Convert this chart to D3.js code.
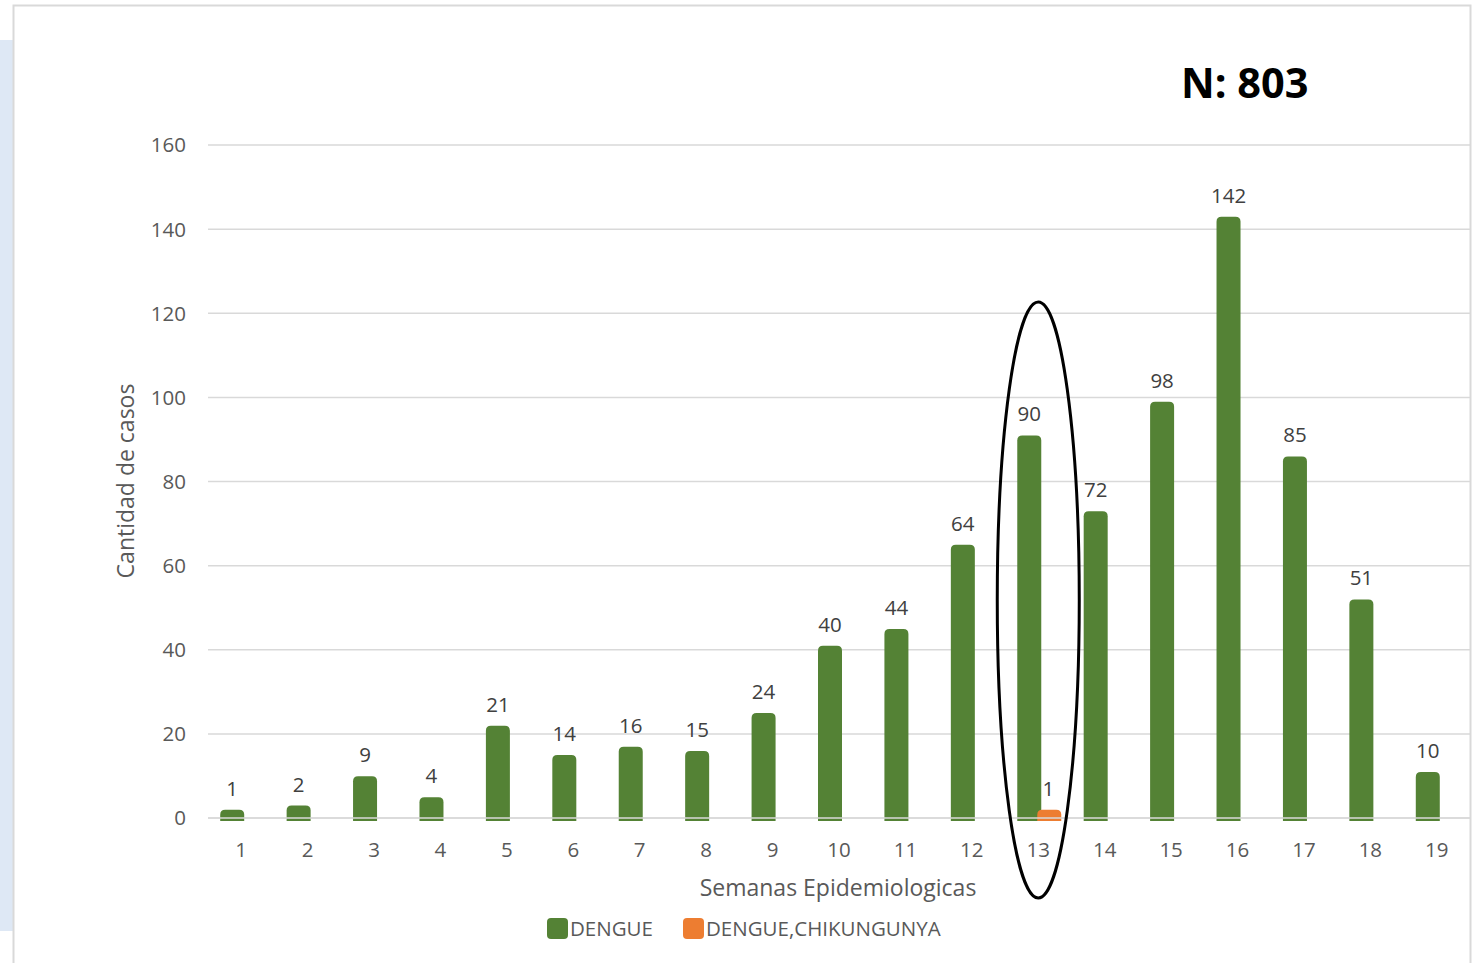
<!DOCTYPE html>
<html>
<head>
<meta charset="utf-8">
<script src="https://cdn.jsdelivr.net/npm/d3@7"></script>
<style>
  body { margin: 0; background: #fff; }
  svg { display: block; font-family: "Open Sans", "Liberation Sans", sans-serif; }
</style>
</head>
<body>
<div id="chart"></div>
<script>
// semanas epidemiologicas y casos
const weeks = ["1","2","3","4","5","6","7","8","9","10","11","12","13","14","15","16","17","18","19"];
const dengue = [1, 2, 9, 4, 21, 14, 16, 15, 24, 40, 44, 64, 90, 72, 98, 142, 85, 51, 10];
const dengueChik = [0, 0, 0, 0, 0, 0, 0, 0, 0, 0, 0, 0, 1, 0, 0, 0, 0, 0, 0];
const seriesNames = ["DENGUE", "DENGUE,CHIKUNGUNYA"];
const seriesColors = ["#548235", "#ed7d31"];
const yTicks = [0, 20, 40, 60, 80, 100, 120, 140, 160];
const totalLabel = "N: 803";
const highlightWeek = "13";

const W = 1473, H = 963;
const margin = {top: 145, right: 3, bottom: 145, left: 208};
const width = W - margin.left - margin.right;
const height = H - margin.top - margin.bottom;

const svg = d3.select("#chart").append("svg")
    .attr("width", W)
    .attr("height", H);

// 背景框
svg.append("rect")
    .attr("x", 0).attr("y", 40).attr("width", 13).attr("height", 891)
    .attr("fill", "#dee8f5");
svg.append("rect")
    .attr("x", 13.5).attr("y", 5.5).attr("width", 1457).attr("height", 970)
    .attr("fill", "#fff").attr("stroke", "#d9d9d9").attr("stroke-width", 2);

const g = svg.append("g").attr("transform", `translate(${margin.left},${margin.top})`);

const x = d3.scaleBand().domain(weeks).range([0, width]).padding(0);
const y = d3.scaleLinear().domain([0, 160]).range([height, 0]);

// grid
g.selectAll(".grid").data(yTicks).enter().append("line")
    .attr("x1", 0).attr("x2", width)
    .attr("y1", d => y(d)).attr("y2", d => y(d))
    .attr("stroke", "#d9d9d9").attr("stroke-width", 1.5);

// y ticks
g.selectAll(".ytick").data(yTicks).enter().append("text")
    .attr("x", -22).attr("y", d => y(d))
    .attr("dy", "0.36em")
    .attr("text-anchor", "end")
    .attr("font-size", 20.5).attr("fill", "#595959")
    .text(d => d);

// x ticks
g.selectAll(".xtick").data(weeks).enter().append("text")
    .attr("x", d => x(d) + x.bandwidth() / 2)
    .attr("y", height + 39)
    .attr("text-anchor", "middle")
    .attr("font-size", 20.5).attr("fill", "#595959")
    .text(d => d);

// rounded-top bar path
function barPath(x0, w, yTop, yBot, r) {
    r = Math.min(r, (yBot - yTop), w / 2);
    return `M${x0},${yBot}V${yTop + r}Q${x0},${yTop} ${x0 + r},${yTop}H${x0 + w - r}Q${x0 + w},${yTop} ${x0 + w},${yTop + r}V${yBot}Z`;
}

const barW = 24;
const offsets = [-21, -1];
const seriesData = [dengue, dengueChik];

seriesData.forEach((vals, si) => {
    const data = weeks.map((w, i) => ({week: w, value: vals[i]})).filter(d => d.value > 0);
    g.selectAll(`.bar${si}`).data(data).enter().append("path")
        .attr("d", d => {
            const cx = x(d.week) + x.bandwidth() / 2 + offsets[si];
            return barPath(cx, barW, y(d.value) - 4, height + 3, 5);
        })
        .attr("fill", seriesColors[si]);
    g.selectAll(`.lab${si}`).data(data).enter().append("text")
        .attr("x", d => x(d.week) + x.bandwidth() / 2 + offsets[si] + barW / 2 + (si === 1 ? -1 : 0))
        .attr("y", d => y(d.value) - 18)
        .attr("text-anchor", "middle")
        .attr("font-size", 20.5).attr("fill", "#404040")
        .text(d => d.value);
});

// baseline over bars
g.append("line")
    .attr("x1", 0).attr("x2", width)
    .attr("y1", y(0)).attr("y2", y(0))
    .attr("stroke", "#d9d9d9").attr("stroke-width", 1.5);

// axis titles
svg.append("text")
    .attr("transform", `translate(134,481) rotate(-90)`)
    .attr("text-anchor", "middle")
    .attr("font-size", 23).attr("fill", "#595959")
    .text("Cantidad de casos");
svg.append("text")
    .attr("x", 838).attr("y", 896)
    .attr("text-anchor", "middle")
    .attr("font-size", 23).attr("fill", "#595959")
    .text("Semanas Epidemiologicas");

// legend
const legendX = [547, 683];
seriesNames.forEach((name, i) => {
    svg.append("rect")
        .attr("x", legendX[i]).attr("y", 918)
        .attr("width", 21).attr("height", 21).attr("rx", 4)
        .attr("fill", seriesColors[i]);
    svg.append("text")
        .attr("x", legendX[i] + 23).attr("y", 936)
        .attr("font-size", 20.5).attr("fill", "#595959")
        .text(name);
});

// N total
svg.append("text")
    .attr("x", 1181).attr("y", 98)
    .attr("font-size", 41.5).attr("font-weight", "bold").attr("fill", "#000")
    .text(totalLabel);

// highlight ellipse
g.append("ellipse")
    .attr("cx", x(highlightWeek) + x.bandwidth() / 2)
    .attr("cy", 455)
    .attr("rx", 41).attr("ry", 298)
    .attr("fill", "none").attr("stroke", "#000").attr("stroke-width", 3);
</script>
</body>
</html>
